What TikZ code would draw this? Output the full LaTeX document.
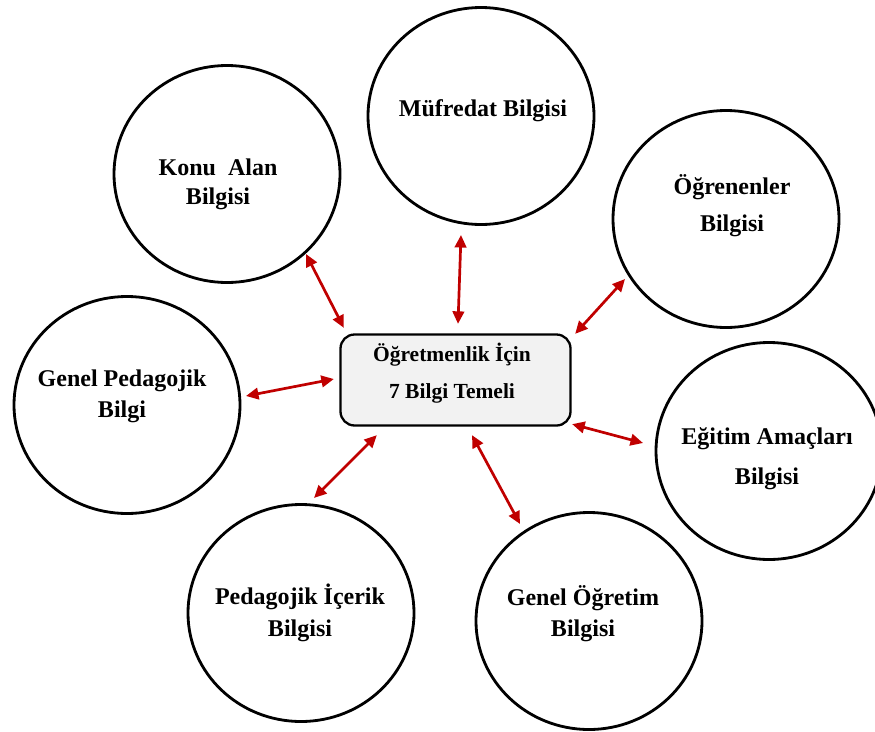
\documentclass[tikz,border=0pt]{standalone}
\usepackage{fontspec}
\setmainfont{Liberation Serif}
\usetikzlibrary{arrows.meta,shapes.geometric}

\definecolor{linkred}{HTML}{C00000}
\definecolor{hubfill}{HTML}{F2F2F2}

\tikzset{
  topic/.style={draw=black, line width=2.8pt, ellipse, minimum width=226pt, minimum height=217pt, inner sep=0pt},
  hub/.style={draw=black, line width=2.3pt, rounded corners=14pt, fill=hubfill, minimum width=230pt, minimum height=91pt, inner sep=0pt},
  label/.style={align=center, inner sep=0pt},
  link/.style={draw=linkred, line width=2.7pt, {Triangle[length=12.5pt,width=11.5pt]}-{Triangle[length=12.5pt,width=11.5pt]}},
}
\newcommand{\lbl}[2]{\fontsize{#1}{#2}\selectfont\bfseries}

\begin{document}
\begin{tikzpicture}[x=1pt,y=-1pt]
  \useasboundingbox (0,0) rectangle (875,731);

  % central box
  \node[hub] (hub) at (455.5,380) {};
  \node[label, font=\lbl{21.5}{37}] (hubtxt) at (452,373) {Öğretmenlik İçin\\7 Bilgi Temeli};

  % the seven knowledge areas
  \node[topic] (konu) at (227,174) {};
  \node[topic] (muf)  at (481,116) {};
  \node[topic] (ogr)  at (726,219) {};
  \node[topic] (gp)   at (127,405) {};
  \node[topic] (egt)  at (769,451) {};
  \node[topic] (pic)  at (301,613) {};
  \node[topic] (go)   at (589,621) {};

  \node[label, font=\lbl{24}{29}] (konutxt) at (218,184) {Konu~ Alan\\Bilgisi};
  \node[label, font=\lbl{24}{29}] (muftxt)  at (483,111) {Müfredat Bilgisi};
  \node[label, font=\lbl{24}{37}] (ogrtxt)  at (732,206) {Öğrenenler\\Bilgisi};
  \node[label, font=\lbl{24}{31}] (gptxt)   at (122,396) {Genel Pedagojik\\Bilgi};
  \node[label, font=\lbl{24}{40}] (egttxt)  at (767,459) {Eğitim Amaçları\\Bilgisi};
  \node[label, font=\lbl{24}{32}] (pictxt)  at (300,613) {Pedagojik İçerik\\Bilgisi};
  \node[label, font=\lbl{24}{31}] (gotxt)   at (583,614) {Genel Öğretim\\Bilgisi};

  % two-way links between the box and each area
  \draw[link] ([shift={(79,80)}]konu.center)   -- ([shift={(4.5,-5.5)}]hub.north west);
  \draw[link] ([shift={(-20,119)}]muf.center)  -- ([shift={(2.5,-9.5)}]hub.north);
  \draw[link] ([shift={(-101,60)}]ogr.center)  -- ([shift={(3.5,0.5)}]hub.north east);
  \draw[link] ([shift={(119,-9)}]gp.center)    -- ([shift={(-5.5,-1)}]hub.west);
  \draw[link] ([shift={(-126,-8)}]egt.center)  -- ([shift={(0.5,-2.5)}]hub.south east);
  \draw[link] ([shift={(13,-115)}]pic.center)  -- ([shift={(37.5,8.5)}]hub.south west);
  \draw[link] ([shift={(-69,-97)}]go.center)   -- ([shift={(16.5,8.5)}]hub.south);
\end{tikzpicture}
\end{document}
